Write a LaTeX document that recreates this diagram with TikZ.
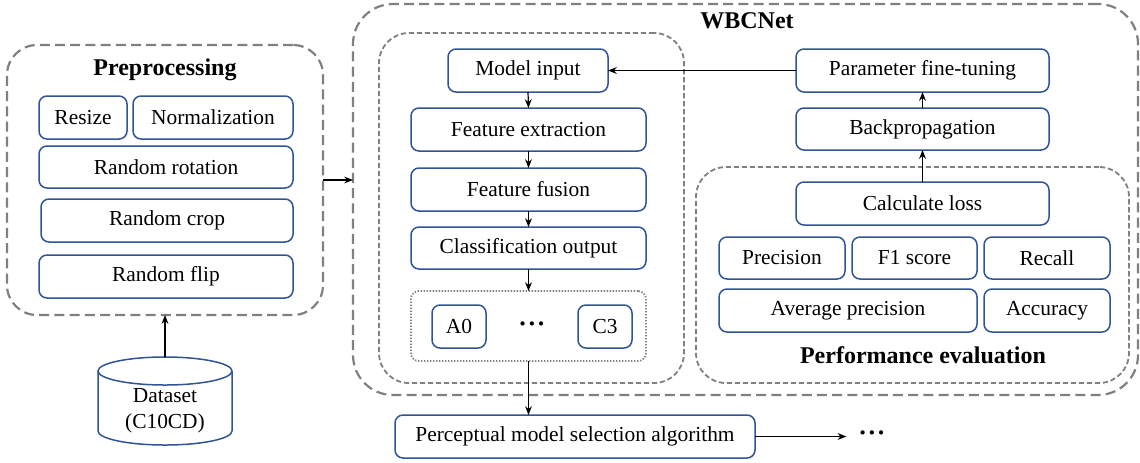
\documentclass[tikz,border=0pt]{standalone}
\usepackage{fontspec}
\setmainfont{Liberation Serif}
\usetikzlibrary{arrows.meta}
\definecolor{bblue}{HTML}{2F5597}
\definecolor{dgray}{HTML}{808080}
\newcommand\mkbox[7]{\node[#1,minimum width={(#5-#3)*0.5pt},minimum height={(#6-#4)*0.5pt}] (#2) at ({(#3+#5)/2},{(#4+#6)/2}) {#7};}
\newcommand\tridots{\textbf{\textperiodcentered\kern0.3pt\textperiodcentered\kern0.3pt\textperiodcentered}}
\tikzset{
  base/.style={inner sep=0pt,outer sep=0pt,font=\fontsize{10.7}{13}\selectfont},
  bluebox/.style={base,draw=bblue,line width=0.75pt,rounded corners=4pt},
  outerdash/.style={base,draw=dgray,line width=1.1pt,dash pattern=on 5pt off 2.6pt,rounded corners=20pt},
  predash/.style={base,draw=dgray,line width=1.1pt,dash pattern=on 5pt off 2.6pt,rounded corners=15pt},
  innerdash/.style={base,draw=dgray,line width=0.9pt,dash pattern=on 2.6pt off 1.4pt,rounded corners=15pt},
  dotbox/.style={base,draw=dgray,line width=0.9pt,dash pattern=on 0.7pt off 0.8pt,rounded corners=4pt},
  ttl/.style={base,font=\fontsize{12}{14}\selectfont\bfseries},
  dotsnode/.style={base,font=\fontsize{13}{14}\selectfont},
  arr/.style={line width=0.6pt,-{Stealth[length=4.4pt,width=3.4pt]}},
}
\begin{document}
\begin{tikzpicture}[x=0.5pt,y=-0.5pt]
\useasboundingbox (0,0) rectangle (1140,462);
% containers
\mkbox{predash}{pre}{7}{45}{323}{315}{}
\mkbox{outerdash}{wbc}{353}{4}{1138}{395}{}
\mkbox{innerdash}{mdl}{379}{33}{684}{383}{}
\mkbox{innerdash}{perf}{696}{167}{1129}{383}{}
\mkbox{dotbox}{cls}{411}{291}{646}{361}{}
% titles
\node[ttl] (tpre) at (165,70) {Preprocessing};
\node[ttl] (twbc) at (747,21) {WBCNet};
\node[ttl] (tperf) at (923,355) {Performance evaluation};
% preprocessing
\mkbox{bluebox}{rs}{39}{96}{127}{139}{Resize}
\mkbox{bluebox}{nm}{133}{96}{293}{139}{Normalization}
\mkbox{bluebox}{rr}{39}{146}{293}{188}{Random rotation}
\mkbox{bluebox}{rc}{41}{199}{293}{242}{Random crop}
\mkbox{bluebox}{rf}{39}{255}{293}{298}{Random flip}
% model
\mkbox{bluebox}{mi}{448}{49}{608}{92}{Model input}
\mkbox{bluebox}{fe}{411}{108}{646}{151}{Feature extraction}
\mkbox{bluebox}{ff}{411}{168}{646}{211}{Feature fusion}
\mkbox{bluebox}{co}{411}{227}{646}{269}{Classification output}
\mkbox{bluebox}{a0}{432}{305}{486}{348}{A0}
\mkbox{bluebox}{c3}{578}{305}{632}{348}{C3}
\node[dotsnode] (cdots) at (532,327) {\tridots};
% right side
\mkbox{bluebox}{pt}{796}{49}{1049}{92}{Parameter fine-tuning}
\mkbox{bluebox}{bp}{796}{108}{1049}{150}{Backpropagation}
\mkbox{bluebox}{cl}{796}{182}{1049}{225}{Calculate loss}
\mkbox{bluebox}{pr}{719}{237}{845}{279}{Precision}
\mkbox{bluebox}{f1}{852}{237}{977}{279}{F1 score}
\mkbox{bluebox}{rc2}{984}{237}{1110}{279}{Recall}
\mkbox{bluebox}{ap}{719}{289}{977}{332}{Average precision}
\mkbox{bluebox}{ac}{984}{289}{1110}{332}{Accuracy}
% bottom
\mkbox{bluebox}{pms}{395}{415}{755}{458}{Perceptual model selection algorithm}
\node[dotsnode] (more) at (872,436) {\tridots};
% dataset cylinder
\draw[bblue,line width=0.75pt] (98,371) -- (98,431) arc[start angle=180,end angle=0,x radius=67,y radius=14] -- (232,371);
\draw[bblue,line width=0.75pt] (165,371) ellipse[x radius=67,y radius=14];
\coordinate (dstop) at (165,357);
\node[base,align=center] (ds) at (165,411) {Dataset\\(C10CD)};
% connectors
\draw[arr] (dstop) -- (pre.south);
\draw[arr] (pre.east) -- (pre.east -| wbc.west);
\draw[arr] (mi.south) -- (fe.north);
\draw[arr] (fe.south) -- (ff.north);
\draw[arr] (ff.south) -- (co.north);
\draw[arr] (co.south) -- (cls.north);
\draw[arr] (cls.south) -- (cls.south |- pms.north);
\draw[arr] (pt.west) -- (mi.east);
\draw[arr] (bp.north) -- (pt.south);
\draw[arr] (cl.north) -- (bp.south);
\draw[arr,shorten >=6pt] (pms.east) -- (pms.east -| more.west);
\end{tikzpicture}
\end{document}
